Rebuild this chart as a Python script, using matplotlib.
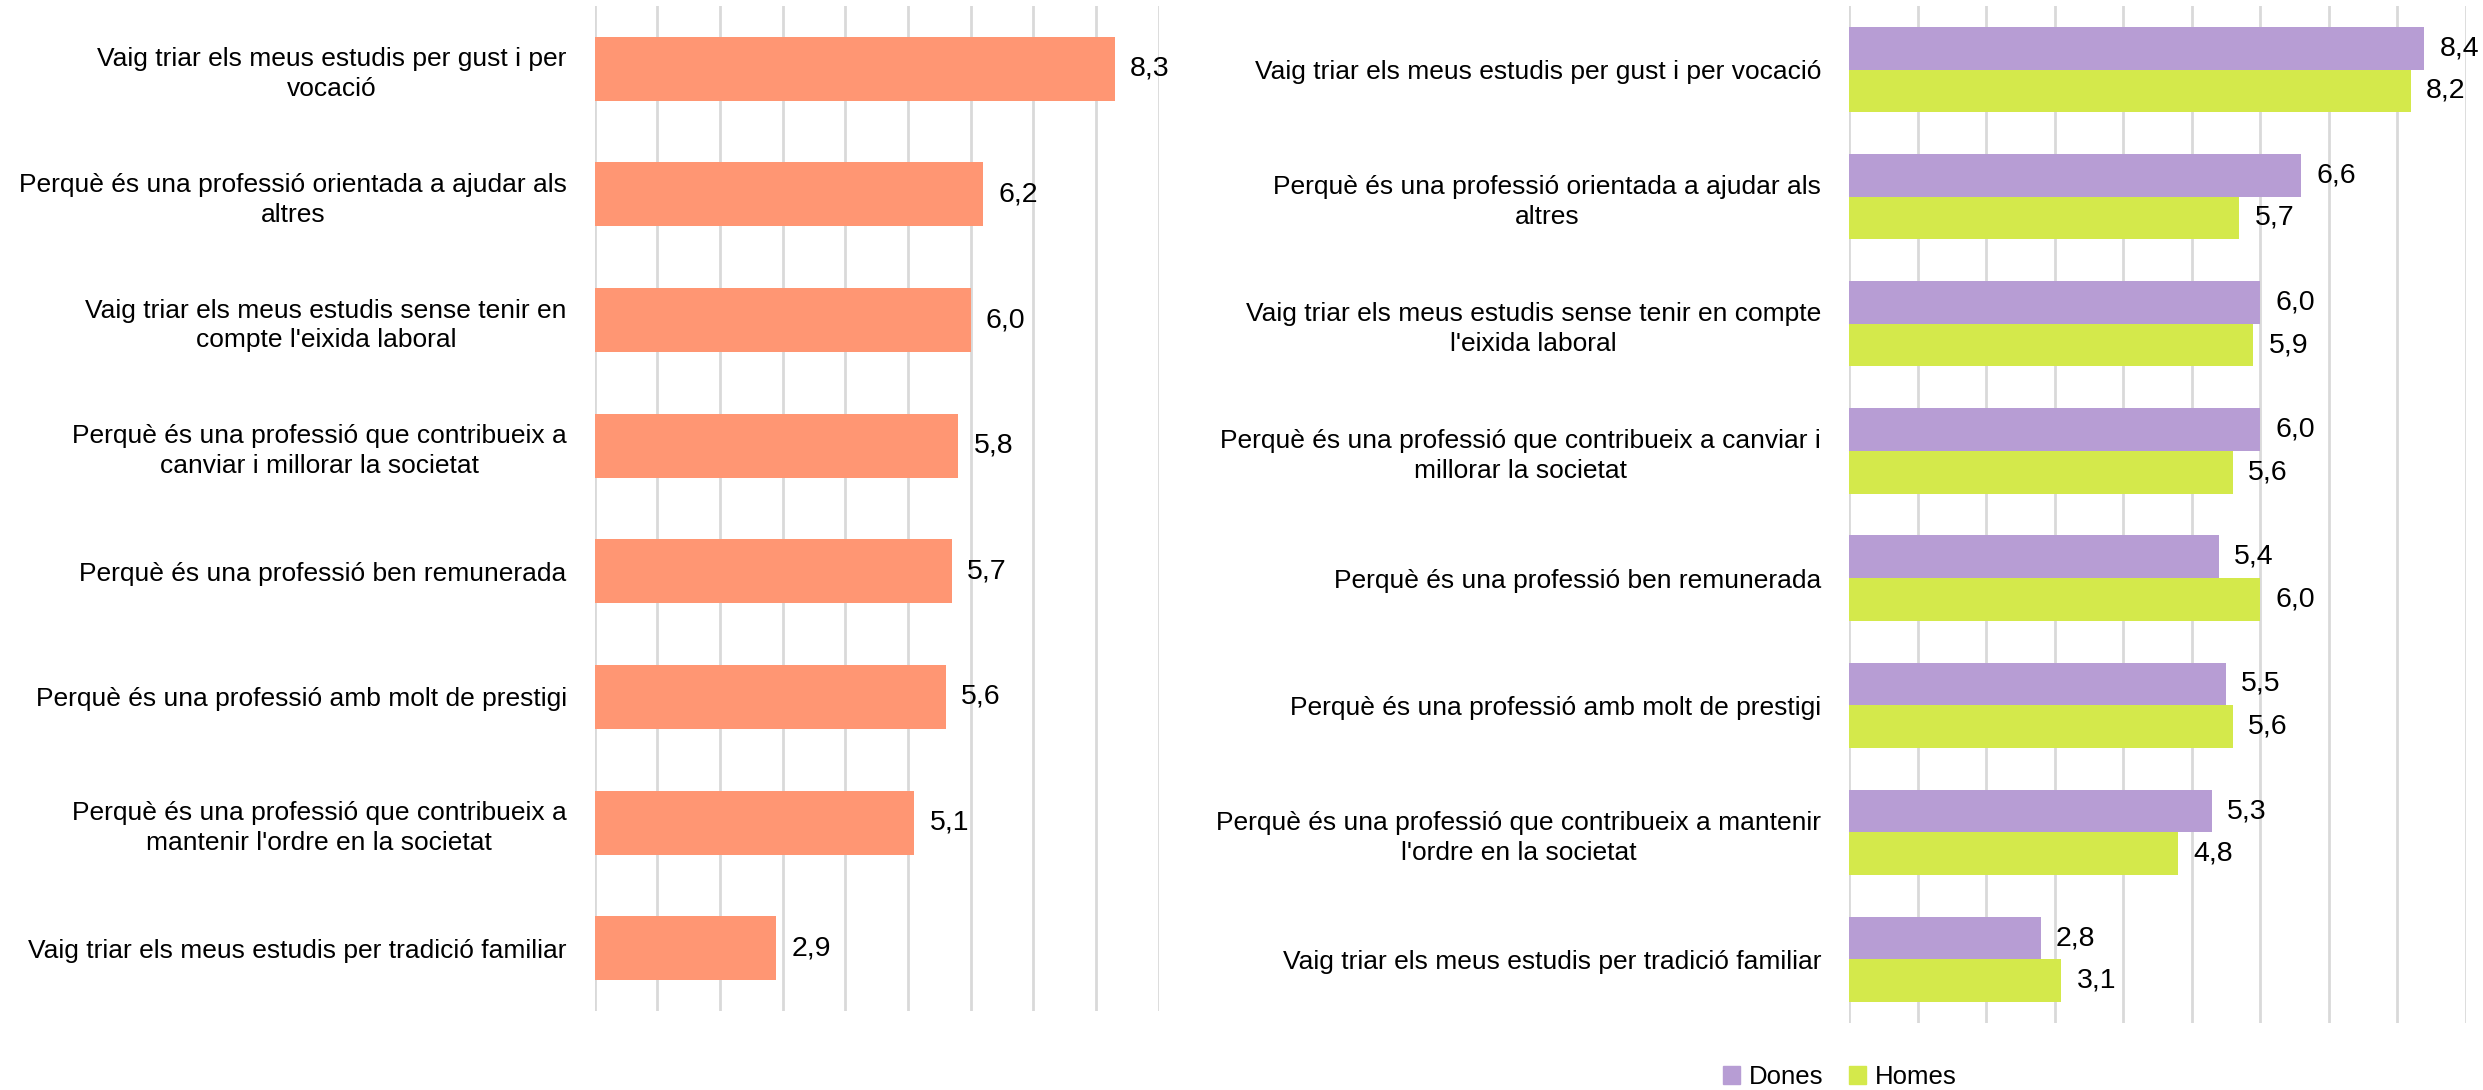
import matplotlib
matplotlib.use("Agg")
import matplotlib.pyplot as plt
from matplotlib.patches import Patch
import numpy as np

# ---------------- data ----------------
labels_left = [
    "Vaig triar els meus estudis per gust i per\nvocació",
    "Perquè és una professió orientada a ajudar als\naltres",
    "Vaig triar els meus estudis sense tenir en\ncompte l'eixida laboral",
    "Perquè és una professió que contribueix a\ncanviar i millorar la societat",
    "Perquè és una professió ben remunerada",
    "Perquè és una professió amb molt de prestigi",
    "Perquè és una professió que contribueix a\nmantenir l'ordre en la societat",
    "Vaig triar els meus estudis per tradició familiar",
]
values_total = [8.3, 6.2, 6.0, 5.8, 5.7, 5.6, 5.1, 2.9]

labels_right = [
    "Vaig triar els meus estudis per gust i per vocació",
    "Perquè és una professió orientada a ajudar als\naltres",
    "Vaig triar els meus estudis sense tenir en compte\nl'eixida laboral",
    "Perquè és una professió que contribueix a canviar i\nmillorar la societat",
    "Perquè és una professió ben remunerada",
    "Perquè és una professió amb molt de prestigi",
    "Perquè és una professió que contribueix a mantenir\nl'ordre en la societat",
    "Vaig triar els meus estudis per tradició familiar",
]
values_dones = [8.4, 6.6, 6.0, 6.0, 5.4, 5.5, 5.3, 2.8]
values_homes = [8.2, 5.7, 5.9, 5.6, 6.0, 5.6, 4.8, 3.1]
series_names = ["Dones", "Homes"]

# ---------------- style ----------------
FONT = "Liberation Sans"
FS = 19
VFS = 20.5
LFS = 18.5
plt.rcParams["font.family"] = [FONT, "DejaVu Sans"]

C_TOTAL = "#FF9673"
C_DONES = "#B79DD4"
C_HOMES = "#D4E94B"
GRID = "#D9D9D9"

W, H = 2483, 1090
fig = plt.figure(figsize=(W / 100, H / 100), dpi=100)

def frac_axes(x0, x1, ytop, ybot):
    return fig.add_axes([x0 / W, (H - ybot) / H, (x1 - x0) / W, (ybot - ytop) / H])

def style(ax, labels):
    ax.set_xlim(0, 9)
    ax.set_ylim(len(labels) - 0.5, -0.5)
    ax.set_xticks(np.arange(0, 10, 1))
    ax.set_xticklabels([])
    ax.xaxis.grid(True, color=GRID, linewidth=2)
    ax.set_axisbelow(True)
    for s in ax.spines.values():
        s.set_visible(False)
    ax.set_yticks(np.arange(len(labels)))
    ax.set_yticklabels(labels, fontsize=FS, multialignment="center", linespacing=1.3)
    ax.tick_params(axis="both", length=0, pad=20)

def fmt(v):
    return f"{v:.1f}".replace(".", ",")

# left chart
axL = frac_axes(594.5, 594.5 + 9 * 62.7, 6, 1011)
y = np.arange(len(labels_left))
bars = axL.barh(y, values_total, height=0.51, color=C_TOTAL)
style(axL, labels_left)
for b, v in zip(bars, values_total):
    axL.annotate(fmt(v), (b.get_width(), b.get_y() + b.get_height() / 2),
                 xytext=(11, 0), textcoords="offset points",
                 ha="left", va="center", fontsize=VFS)

# right chart
axR = frac_axes(1849, 1849 + 9 * 68.5, 6, 1023)
y = np.arange(len(labels_right))
h = 0.335
bd = axR.barh(y - h / 2, values_dones, height=h, color=C_DONES)
bh = axR.barh(y + h / 2, values_homes, height=h, color=C_HOMES)
style(axR, labels_right)
for bars_, vals in ((bd, values_dones), (bh, values_homes)):
    for b, v in zip(bars_, vals):
        axR.annotate(fmt(v), (b.get_width(), b.get_y() + b.get_height() / 2),
                     xytext=(11, 0), textcoords="offset points",
                     ha="left", va="center", fontsize=VFS)

handles = [Patch(color=C_DONES), Patch(color=C_HOMES)]
fig.legend(handles, series_names, loc="center", bbox_to_anchor=(1840 / W, 1 - 1077 / H),
           ncol=2, frameon=False, fontsize=LFS, handlelength=0.65, handleheight=0.65,
           handletextpad=0.35, columnspacing=1.0, borderpad=0)

fig.savefig("out.png", dpi=100)
